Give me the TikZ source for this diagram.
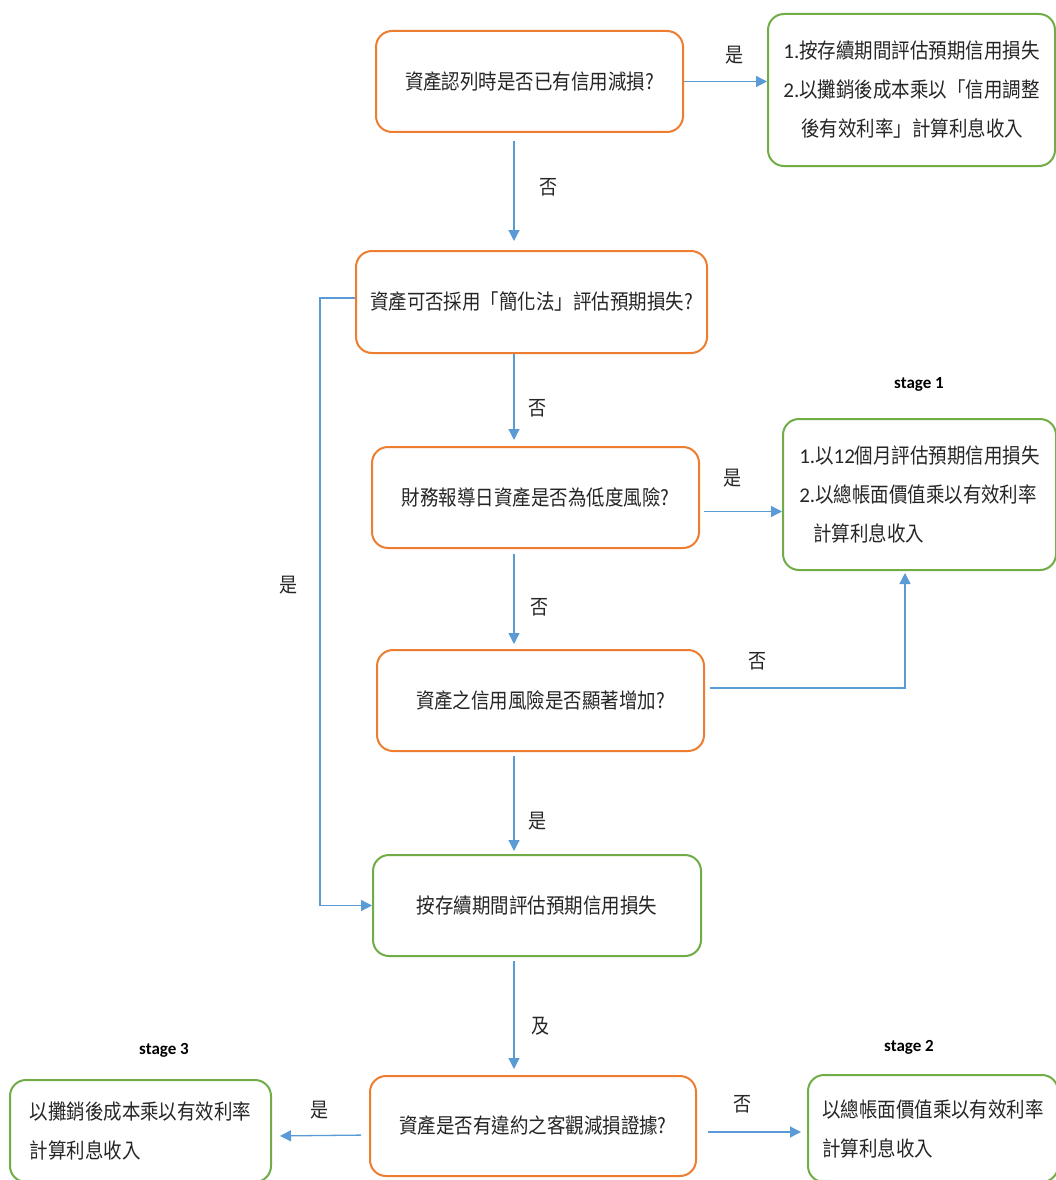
\documentclass[tikz,border=0pt]{standalone}
\usepackage{fontspec}
\setmainfont{Noto Sans CJK TC}[FakeStretch=0.88]
\newfontfamily\lat{Carlito}
\usetikzlibrary{arrows.meta}
\definecolor{orng}{HTML}{ED7D31}
\definecolor{grn}{HTML}{70AD47}
\definecolor{blu}{HTML}{5B9BD5}
\begin{document}
\begin{tikzpicture}[x=1pt,y=-1pt,
  box/.style={draw=orng, line width=2pt, rounded corners=16pt, inner sep=0pt,
    font=\fontsize{21}{39}\selectfont, text=black!85, align=center},
  gbox/.style={box, draw=grn, align=left},
  arr/.style={draw=blu, line width=1.3pt, -{Triangle[length=11pt,width=11pt]}},
  lbl/.style={font=\fontsize{20.5}{22}\selectfont, text=black!85, inner sep=0pt},
  stg/.style={font=\lat\bfseries\fontsize{17}{20}\selectfont, inner sep=0pt}]
\useasboundingbox (0,0) rectangle (1056,1180);
\clip (0,0) rectangle (1056,1180);
\fill[white] (0,0) rectangle (1056,1180);

% boxes
\node[box, minimum width=307pt, minimum height=101pt] (b1) at (529.5,81.5) {資產認列時是否已有信用減損?};
\node[gbox, minimum width=287pt, minimum height=152pt] (r1) at (911.5,90)
  {{\lat 1.}按存續期間評估預期信用損失\\{\lat 2.}以攤銷後成本乘以「信用調整\\\hspace*{18pt}後有效利率」計算利息收入};
\node[box, minimum width=351pt, minimum height=102pt] (b2) at (531.5,302) {資產可否採用「簡化法」評估預期損失?};
\node[box, minimum width=327pt, minimum height=101pt] (b3) at (535.5,497.5) {財務報導日資產是否為低度風險?};
\node[gbox, minimum width=273pt, minimum height=151pt] (s1) at (919.5,494.5)
  {{\lat 1.}以{\lat 12}個月評估預期信用損失\\{\lat 2.}以總帳面價值乘以有效利率\\\hspace*{14pt}計算利息收入};
\node[box, minimum width=327pt, minimum height=101pt] (b4) at (540.5,700.5) {資產之信用風險是否顯著增加?};
\node[box, draw=grn, minimum width=328pt, minimum height=101pt] (b5) at (537,905.5) {按存續期間評估預期信用損失};
\node[box, minimum width=326pt, minimum height=100pt] (b6) at (533,1126) {資產是否有違約之客觀減損證據?};
\node[gbox, minimum width=261pt, minimum height=102pt] (s3) at (140.5,1131)
  {以攤銷後成本乘以有效利率\\計算利息收入};
\node[gbox, minimum width=250pt, minimum height=107pt] (s2) at (933,1128.5)
  {以總帳面價值乘以有效利率\\計算利息收入};

% stage labels
\node[stg] (t1) at (919,384) {stage 1};
\node[stg] (t2) at (909,1047) {stage 2};
\node[stg] (t3) at (164,1050) {stage 3};

% helper coordinate for vertical connectors
\coordinate (vx) at (514,0);

% connectors
\draw[arr] (b1.east) -- (b1.east -| r1.west);
\draw[arr, shorten <=8pt, shorten >=9pt] (b1.south -| vx) -- (b2.north -| vx);
\draw[arr, shorten >=6pt] (b2.south -| vx) -- (b3.north -| vx);
\draw[arr, shorten <=4pt] ([yshift=-14pt]b3.east) -- ([yshift=-17pt]s1.west);
\draw[arr, shorten <=5pt, shorten >=5pt] (b3.south -| vx) -- (b4.north -| vx);
\draw[arr, shorten >=2pt] ([yshift=12.5pt,xshift=5pt]b4.east) -| ([xshift=-14.5pt]s1.south);
\draw[arr, shorten <=4pt, shorten >=3pt] (b4.south -| vx) -- (b5.north -| vx);
\draw[arr] ([yshift=4pt]b2.west) -- ++(-35,0) |- (b5.west);
\draw[arr, shorten <=4pt, shorten >=6pt] (b5.south -| vx) -- (b6.north -| vx);
\draw[arr, shorten <=8pt, shorten >=8pt] ([yshift=-9pt]b6.west) -- ([yshift=-5pt]s3.east);
\draw[arr, shorten <=11pt, shorten >=6pt] ([yshift=-6pt]b6.east) -- ([yshift=-3.5pt]s2.west);

% connector labels
\node[lbl] (l1) at (735,55) {是};
\node[lbl] (l2) at (549,187) {否};
\node[lbl] (l3) at (538,408) {否};
\node[lbl] (l4) at (733,478) {是};
\node[lbl] (l5) at (540,607) {否};
\node[lbl] (l6) at (758,661) {否};
\node[lbl] (l7) at (538,821) {是};
\node[lbl] (l8) at (289,585) {是};
\node[lbl] (l9) at (541,1026) {及};
\node[lbl] (l10) at (320,1110) {是};
\node[lbl] (l11) at (743,1104) {否};
\end{tikzpicture}
\end{document}
